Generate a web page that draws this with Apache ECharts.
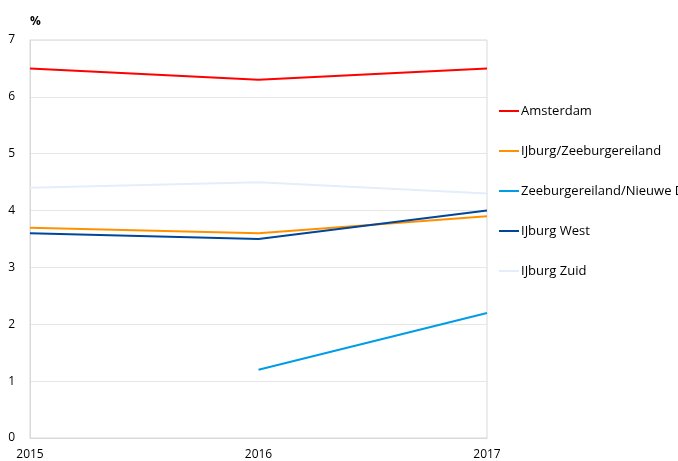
<!DOCTYPE html>
<html>
<head>
<meta charset="utf-8">
<script src="https://cdn.jsdelivr.net/npm/echarts@6/dist/echarts.min.js"></script>
<style>html,body{margin:0;padding:0;background:#fff}#c{width:678px;height:461px}</style>
</head>
<body>
<div id="c"></div>
<script>
const years = ['2015', '2016', '2017'];
const amsterdam = [6.5, 6.3, 6.5];
const ijburgZeeburgereiland = [3.7, 3.6, 3.9];
const zeeburgereilandNieuwe = [null, 1.2, 2.2];
const ijburgWest = [3.6, 3.5, 4.0];
const ijburgZuid = [4.4, 4.5, 4.3];
const yTicks = [0, 1, 2, 3, 4, 5, 6, 7];

const names = ['Amsterdam', 'IJburg/Zeeburgereiland', 'Zeeburgereiland/Nieuwe Diep', 'IJburg West', 'IJburg Zuid'];
const colors = ['#ff0000', '#ff9100', '#009de6', '#004699', '#e3eefa'];
const datasets = [amsterdam, ijburgZeeburgereiland, zeeburgereilandNieuwe, ijburgWest, ijburgZuid];

const font = 'Open Sans';
const chart = echarts.init(document.getElementById('c'));
chart.setOption({
  animation: false,
  textStyle: { fontFamily: font },
  grid: { left: 30, right: 191, top: 40, bottom: 22, show: true, borderColor: '#d9d9d9', borderWidth: 1 },
  legend: {
    orient: 'vertical', left: 494, top: 99,
    itemWidth: 20, itemHeight: 14, itemGap: 26,
    textStyle: { fontFamily: font, fontSize: 13, lineHeight: 14, color: '#000', padding: [0, 0, 0, -3] },
    data: names.map(n => ({ name: n, icon: 'path://M0,0L20,0L20,2L0,2Z' }))
  },
  xAxis: {
    type: 'category', data: years, boundaryGap: false,
    axisLine: { show: true, lineStyle: { color: '#d9d9d9' } },
    axisTick: { show: false },
    axisLabel: { color: '#000', fontSize: 12, margin: 11, fontFamily: font },
    splitLine: { show: false }
  },
  yAxis: {
    type: 'value', min: 0, max: 7, interval: 1,
    name: '%', nameLocation: 'end', nameGap: 12,
    nameTextStyle: { fontWeight: 'bold', color: '#000', fontSize: 12, align: 'left', fontFamily: font },
    axisLine: { show: true, lineStyle: { color: '#d9d9d9' } },
    axisTick: { show: false },
    axisLabel: { color: '#000', fontSize: 12, margin: 15, fontFamily: font,
      formatter: v => yTicks.includes(v) ? String(v) : '' },
    splitLine: { lineStyle: { color: '#e6e6e6', width: 1 } }
  },
  series: datasets.map((d, i) => ({
    name: names[i], type: 'line', data: d, symbol: 'none',
    itemStyle: { color: colors[i] },
    lineStyle: { color: colors[i], width: 2 },
    connectNulls: false
  }))
});
</script>
</body>
</html>
